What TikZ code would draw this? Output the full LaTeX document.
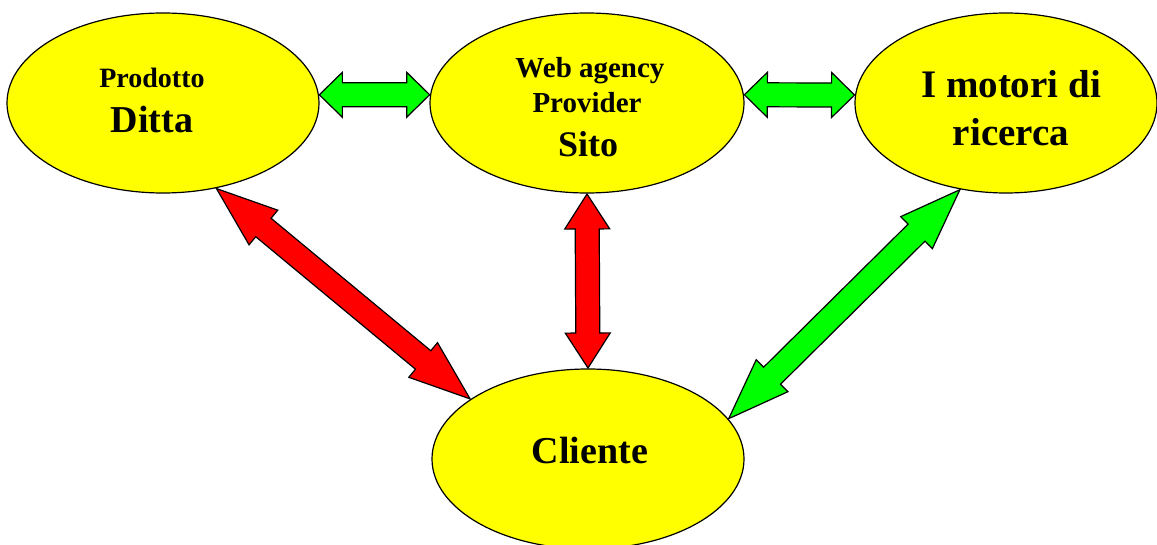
\documentclass[tikz,border=0pt]{standalone}
\usepackage{fontspec}
\setmainfont{Liberation Serif}
\usetikzlibrary{shapes.geometric,calc}

\definecolor{bubbleyellow}{RGB}{255,255,0}
\definecolor{linkgreen}{RGB}{0,255,0}
\definecolor{linkred}{RGB}{255,0,0}

% half widths of the block arrows
\newcommand\arrheadhw{22.5pt}
\newcommand\arrshafthw{12pt}

% double-headed block arrow: fill colour, start, end, head length
\newcommand\twoway[4]{%
  \draw[arrowbody, fill=#1]
    (#2)
    -- ($(#2)!#4!(#3)!\arrheadhw!90:(#3)$)
    -- ($(#2)!#4!(#3)!\arrshafthw!90:(#3)$)
    -- ($(#3)!#4!(#2)!\arrshafthw!-90:(#2)$)
    -- ($(#3)!#4!(#2)!\arrheadhw!-90:(#2)$)
    -- (#3)
    -- ($(#3)!#4!(#2)!\arrheadhw!90:(#2)$)
    -- ($(#3)!#4!(#2)!\arrshafthw!90:(#2)$)
    -- ($(#2)!#4!(#3)!\arrshafthw!-90:(#3)$)
    -- ($(#2)!#4!(#3)!\arrheadhw!-90:(#3)$)
    -- cycle;%
}

\tikzset{
  bubble/.style={ellipse, draw=black, line width=1.2pt, fill=bubbleyellow,
    minimum width=#1, minimum height=180pt, inner sep=0pt, outer sep=1pt},
  arrowbody/.style={draw=black, line width=1.2pt, line join=miter},
  lbl/.style={anchor=base, inner sep=0pt, font=\bfseries},
}

\begin{document}
\begin{tikzpicture}[x=1pt, y=-1pt]
  \useasboundingbox (0,0) rectangle (1157,545);

  % the four parties
  \node[bubble=312pt] (prod)   at (163,103) {};
  \node[bubble=314pt] (sito)   at (587,103) {};
  \node[bubble=302pt] (motori) at (1006,103) {};
  \node[bubble=312pt] (client) at (588,459) {};

  % labels
  \node[lbl] (prodA)   at (152,88)  {\fontsize{28}{30}\selectfont Prodotto};
  \node[lbl] (prodB)   at (152,133) {\fontsize{38}{40}\selectfont Ditta};
  \node[lbl] (sitoA)   at (590,78)  {\fontsize{29}{31}\selectfont Web agency};
  \node[lbl] (sitoB)   at (587,113) {\fontsize{29}{31}\selectfont Provider};
  \node[lbl] (sitoC)   at (588,157) {\fontsize{36}{38}\selectfont Sito};
  \node[lbl] (motoriA) at (1011,98) {\fontsize{39}{41}\selectfont I motori di};
  \node[lbl] (motoriB) at (1011,146){\fontsize{39}{41}\selectfont ricerca};
  \node[lbl] (clientA) at (590,463) {\fontsize{38}{40}\selectfont Cliente};

  % links between the parties
  \twoway{linkgreen}{prod.3}{sito.177}{23pt}
  \twoway{linkgreen}{sito.3}{motori.177}{23pt}
  \twoway{linkred}{sito.south}{client.north}{35pt}
  \twoway{linkred}{prod.-58.7}{client.153.8}{61pt}
  \twoway{linkgreen}{motori.-118}{client.16.5}{61pt}
\end{tikzpicture}
\end{document}
